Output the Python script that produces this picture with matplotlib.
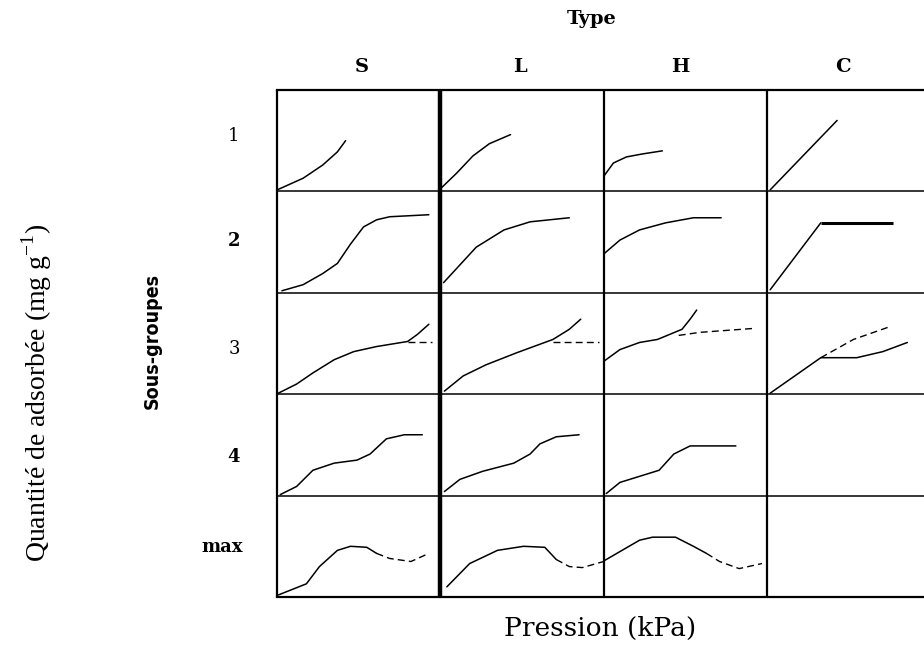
import matplotlib
matplotlib.use("Agg")
import matplotlib.pyplot as plt

# ── Data (panel-normalised: x = pression 0-1, y = quantité 0-1) ────────────
TYPES = ["S", "L", "H", "C"]
SUBGROUPS = ["1", "2", "3", "4", "max"]

# sous-groupe 1
S1_x = [0.008, 0.16, 0.28, 0.37, 0.42]
S1_y = [0.02, 0.13, 0.26, 0.39, 0.50]
L1_x = [0.01, 0.10, 0.20, 0.30, 0.43]
L1_y = [0.04, 0.18, 0.35, 0.47, 0.56]
H1_x = [0.006, 0.06, 0.14, 0.24, 0.36]
H1_y = [0.16, 0.28, 0.34, 0.37, 0.40]
C1_x = [0.02, 0.43]
C1_y = [0.015, 0.70]

# sous-groupe 2
S2_x = [0.03, 0.16, 0.28, 0.37, 0.45, 0.53, 0.61, 0.69, 0.93]
S2_y = [0.02, 0.08, 0.19, 0.29, 0.48, 0.65, 0.72, 0.75, 0.77]
L2_x = [0.02, 0.10, 0.22, 0.39, 0.55, 0.79]
L2_y = [0.10, 0.24, 0.45, 0.62, 0.70, 0.74]
H2_x = [0.006, 0.10, 0.22, 0.38, 0.55, 0.72]
H2_y = [0.39, 0.52, 0.62, 0.69, 0.74, 0.74]
C2_x = [0.02, 0.33]
C2_y = [0.03, 0.69]
C2_plateau_x = [0.33, 0.77]
C2_plateau_y = [0.69, 0.69]

# sous-groupe 3 (solid = adsorption, dashed = alternative)
S3_x = [0.008, 0.12, 0.22, 0.35, 0.47, 0.61, 0.80, 0.86, 0.93]
S3_y = [0.01, 0.10, 0.21, 0.34, 0.42, 0.47, 0.52, 0.59, 0.69]
S3d_x = [0.80, 0.95]
S3d_y = [0.51, 0.51]
L3_x = [0.025, 0.14, 0.28, 0.47, 0.69, 0.79, 0.86]
L3_y = [0.03, 0.18, 0.29, 0.41, 0.54, 0.64, 0.74]
L3d_x = [0.69, 0.97]
L3d_y = [0.51, 0.51]
H3_x = [0.006, 0.10, 0.22, 0.33, 0.48, 0.53, 0.57]
H3_y = [0.33, 0.44, 0.51, 0.54, 0.64, 0.74, 0.83]
H3d_x = [0.46, 0.59, 0.93]
H3d_y = [0.58, 0.61, 0.65]
C3_x = [0.02, 0.33, 0.55, 0.71, 0.86]
C3_y = [0.01, 0.36, 0.36, 0.42, 0.51]
C3d_x = [0.33, 0.53, 0.76]
C3d_y = [0.36, 0.54, 0.67]

# sous-groupe 4
S4_x = [0.02, 0.12, 0.22, 0.35, 0.49, 0.57, 0.67, 0.78, 0.89]
S4_y = [0.01, 0.09, 0.25, 0.32, 0.35, 0.41, 0.56, 0.60, 0.60]
L4_x = [0.025, 0.12, 0.26, 0.45, 0.55, 0.61, 0.71, 0.85]
L4_y = [0.04, 0.16, 0.24, 0.32, 0.41, 0.51, 0.58, 0.60]
H4_x = [0.016, 0.10, 0.22, 0.34, 0.43, 0.53, 0.81]
H4_y = [0.02, 0.13, 0.19, 0.25, 0.41, 0.49, 0.49]

# sous-groupe max
Smax_x = [0.008, 0.18, 0.26, 0.37, 0.45, 0.55, 0.61]
Smax_y = [0.02, 0.13, 0.30, 0.46, 0.50, 0.49, 0.43]
Smaxd_x = [0.61, 0.69, 0.82, 0.93]
Smaxd_y = [0.43, 0.38, 0.35, 0.43]
Lmax_x = [0.04, 0.18, 0.35, 0.51, 0.64, 0.71]
Lmax_y = [0.10, 0.33, 0.46, 0.50, 0.49, 0.37]
Lmaxd_x = [0.71, 0.79, 0.87, 1.0]
Lmaxd_y = [0.37, 0.30, 0.29, 0.35]
Hmax_x = [0.006, 0.22, 0.30, 0.44, 0.55, 0.63]
Hmax_y = [0.36, 0.56, 0.59, 0.59, 0.50, 0.43]
Hmaxd_x = [0.63, 0.71, 0.83, 0.97]
Hmaxd_y = [0.43, 0.35, 0.28, 0.33]

# (column, row, x, y, style)
CURVES = [
    (0, 0, S1_x, S1_y, "-"), (1, 0, L1_x, L1_y, "-"),
    (2, 0, H1_x, H1_y, "-"), (3, 0, C1_x, C1_y, "-"),
    (0, 1, S2_x, S2_y, "-"), (1, 1, L2_x, L2_y, "-"),
    (2, 1, H2_x, H2_y, "-"), (3, 1, C2_x, C2_y, "-"),
    (3, 1, C2_plateau_x, C2_plateau_y, "thick"),
    (0, 2, S3_x, S3_y, "-"), (0, 2, S3d_x, S3d_y, "--"),
    (1, 2, L3_x, L3_y, "-"), (1, 2, L3d_x, L3d_y, "--"),
    (2, 2, H3_x, H3_y, "-"), (2, 2, H3d_x, H3d_y, "--"),
    (3, 2, C3_x, C3_y, "-"), (3, 2, C3d_x, C3d_y, "--"),
    (0, 3, S4_x, S4_y, "-"), (1, 3, L4_x, L4_y, "-"), (2, 3, H4_x, H4_y, "-"),
    (0, 4, Smax_x, Smax_y, "-"), (0, 4, Smaxd_x, Smaxd_y, "--"),
    (1, 4, Lmax_x, Lmax_y, "-"), (1, 4, Lmaxd_x, Lmaxd_y, "--"),
    (2, 4, Hmax_x, Hmax_y, "-"), (2, 4, Hmaxd_x, Hmaxd_y, "--"),
]

# ── Layout (pixels of the 924x646 output) ───────────────────────────────────
W, H = 924, 646
GRID_LEFT, GRID_TOP, GRID_BOTTOM = 277, 90, 597
COL_W = 163.3
SERIF = ["Liberation Serif", "DejaVu Serif"]
WIDE_SERIF = ["DejaVu Serif"]


def fx(px):
    return px / W


def fy(py):
    return 1 - py / H


fig = plt.figure(figsize=(W / 100, H / 100), dpi=100)
n_col, n_row = len(TYPES), len(SUBGROUPS)
ax = fig.add_axes([fx(GRID_LEFT), fy(GRID_BOTTOM),
                   n_col * COL_W / W, (GRID_BOTTOM - GRID_TOP) / H])
ax.set_xlim(0, n_col)
ax.set_ylim(0, n_row)
ax.axis("off")

# grid lines: thick separator after S, medium for other columns, thin rows
col_lw = [1.6, 3.2, 1.6, 1.6, 1.6]
for i in range(n_col + 1):
    ax.plot([i, i], [0, n_row], color="black", lw=col_lw[i], solid_capstyle="butt",
            clip_on=False)
for j in range(n_row + 1):
    ax.plot([0, n_col + 0.05], [j, j], color="black",
            lw=1.6 if j in (0, n_row) else 1.1, clip_on=False)

for c, r, xs, ys, style in CURVES:
    px = [c + v for v in xs]
    py = [n_row - 1 - r + v for v in ys]
    if style == "--":
        ax.plot(px, py, color="black", lw=1.0, linestyle=(0, (5, 3)))
    elif style == "thick":
        ax.plot(px, py, color="black", lw=2.2, solid_capstyle="butt")
    else:
        ax.plot(px, py, color="black", lw=1.1, solid_joinstyle="round",
                solid_capstyle="round")

# ── Text ────────────────────────────────────────────────────────────────────
fig.text(fx(592), fy(19), "Type", ha="center", va="center", fontsize=14,
         fontweight="bold", family=WIDE_SERIF)
header_x = [362, 520, 680, 843]
for t, cx in zip(TYPES, header_x):
    fig.text(fx(cx), fy(67), t, ha="center", va="center", fontsize=14,
             fontweight="bold", family=WIDE_SERIF)

row_y = [136, 241, 349, 457, 547]
for lab, py in zip(SUBGROUPS, row_y):
    fig.text(fx(243) if lab == "max" else fx(234), fy(py), lab,
             ha="right" if lab == "max" else "center", va="center",
             fontsize=13, family=WIDE_SERIF,
             fontweight="normal" if lab in ("1", "3") else "bold")

fig.text(fx(152), fy(341), "Sous-groupes", rotation=90, ha="center", va="center",
         fontsize=14, fontweight="bold", fontstretch="condensed",
         family=["Liberation Sans Narrow", "DejaVu Sans"])
fig.text(fx(37), fy(393), "Quantité de adsorbée (mg g$^{\\mathregular{-1}}$)",
         rotation=90, ha="center", va="center", fontsize=20, family=SERIF)
fig.text(fx(600), fy(628), "Pression (kPa)", ha="center", va="center",
         fontsize=19, family=WIDE_SERIF)

fig.savefig("out.png", dpi=100)
